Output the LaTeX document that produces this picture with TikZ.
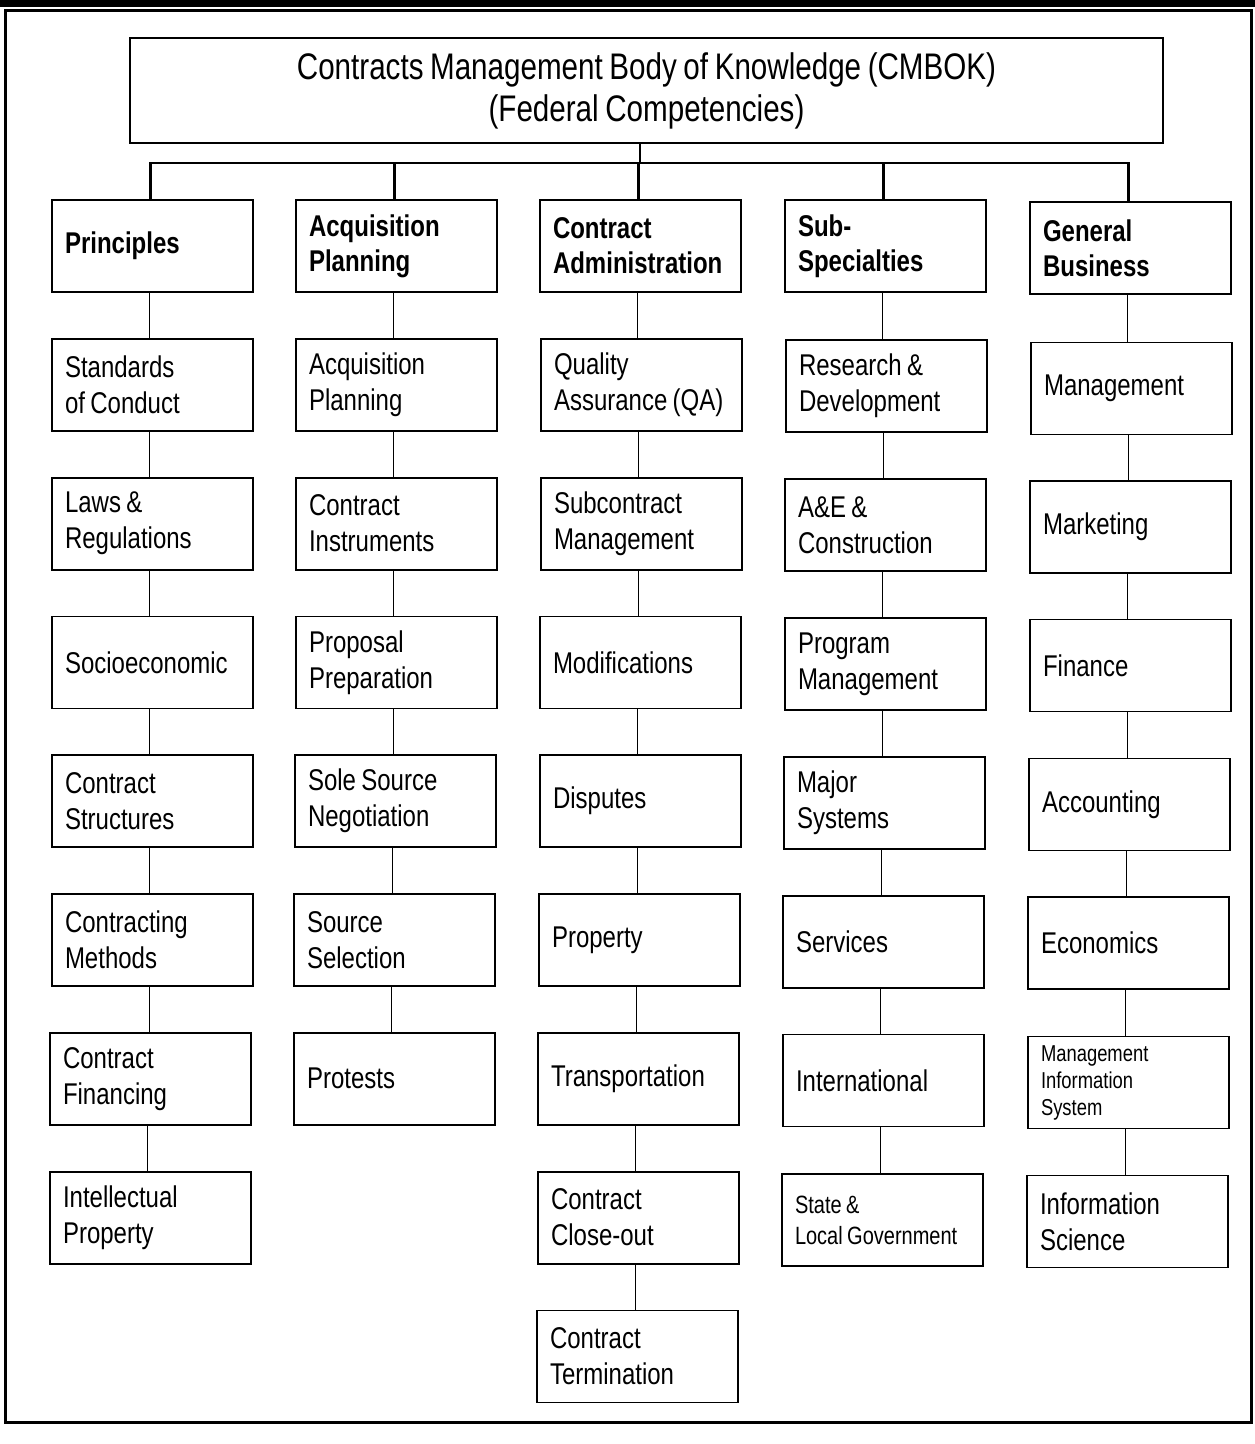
\documentclass[tikz,border=0pt]{standalone}
\usepackage{fontspec}
\setmainfont{Liberation Sans}[FakeStretch=0.8,WordSpace=0.8]
\begin{document}
\begin{tikzpicture}[x=1pt,y=-1pt,
  box/.style={draw,line width=1.8pt,minimum width=201pt,minimum height=92pt,
    text width=175pt,inner xsep=13pt,align=flush left,font=\fontsize{30}{36}\selectfont},
  head/.style={box,font=\fontsize{30}{35}\selectfont\bfseries},
  link/.style={line width=1.8pt}]
\useasboundingbox (0,0) rectangle (1255,1444);
\fill (0,0) rectangle (1255,7);
\draw[line width=3pt] (5,10) rectangle (1251,1422);
% title
\node[draw,line width=2.6pt,minimum width=1033pt,minimum height=105pt,align=center,
  font=\fontsize{37}{42}\selectfont] (title) at (646.5,90.5)
  {Contracts Management Body of Knowledge (CMBOK)\\(Federal Competencies)};
\coordinate (bus) at (640,163);
% headers
\node[head] (h1) at (152.5,246) {Principles};
\node[head] (h2) at (396.5,246) {Acquisition\\Planning};
\node[head] (h3) at (640.5,246) {Contract\\Administration};
\node[head] (h4) at (885.5,246) {Sub-\\Specialties};
\node[head] (h5) at (1130.5,248) {General\\Business};
\foreach \h in {h1,h2,h3,h4,h5}
  \draw[line width=2.2pt] (title.south -| bus) -- (bus) -| ([xshift=-2pt]\h.north);
% column 1
\node[box] (a1) at (152.5,384.8) {Standards\\of Conduct};
\node[box] (a2) at (152.5,523.6) {Laws \&\\Regulations};
\node[box] (a3) at (152.5,662.4) {Socioeconomic};
\node[box] (a4) at (152.5,801.2) {Contract\\Structures};
\node[box] (a5) at (152.5,940) {Contracting\\Methods};
\node[box] (a6) at (150.5,1078.8) {Contract\\Financing};
\node[box] (a7) at (150.5,1217.6) {Intellectual\\Property};
% column 2
\node[box] (b1) at (396.5,384.8) {Acquisition\\Planning};
\node[box] (b2) at (396.5,523.6) {Contract\\Instruments};
\node[box] (b3) at (396.5,662.4) {Proposal\\Preparation};
\node[box] (b4) at (395.5,801.2) {Sole Source\\Negotiation};
\node[box] (b5) at (394.5,940) {Source\\Selection};
\node[box] (b6) at (394.5,1078.8) {Protests};
% column 3
\node[box] (c1) at (641.5,384.8) {Quality\\Assurance (QA)};
\node[box] (c2) at (641.5,523.6) {Subcontract\\Management};
\node[box] (c3) at (640.5,662.4) {Modifications};
\node[box] (c4) at (640.5,801.2) {Disputes};
\node[box] (c5) at (639.5,940) {Property};
\node[box] (c6) at (638.5,1078.8) {Transportation};
\node[box] (c7) at (638.5,1217.6) {Contract\\Close-out};
\node[box] (c8) at (637.5,1356.4) {Contract\\Termination};
% column 4
\node[box] (d1) at (886.5,386) {Research \&\\Development};
\node[box] (d2) at (885.5,525) {A\&E \&\\Construction};
\node[box] (d3) at (885.5,664) {Program\\Management};
\node[box] (d4) at (884.5,803) {Major\\Systems};
\node[box] (d5) at (883.5,942) {Services};
\node[box] (d6) at (883.5,1080.5) {International};
\node[box,font=\fontsize{25}{31}\selectfont] (d7) at (882.5,1220) {State \&\\Local Government};
% column 5
\node[box] (e1) at (1131.5,388.5) {Management};
\node[box] (e2) at (1130.5,527) {Marketing};
\node[box] (e3) at (1130.5,665.5) {Finance};
\node[box] (e4) at (1129.5,804.5) {Accounting};
\node[box] (e5) at (1128.5,943) {Economics};
\node[box,font=\fontsize{23}{27}\selectfont] (e6) at (1128.5,1082.5) {Management\\Information\\System};
\node[box] (e7) at (1127.5,1221.5) {Information\\Science};
% connectors
\foreach \a/\b in {h1/a1,a1/a2,a2/a3,a3/a4,a4/a5,a5/a6,a6/a7,
  h2/b1,b1/b2,b2/b3,b3/b4,b4/b5,b5/b6,
  h3/c1,c1/c2,c2/c3,c3/c4,c4/c5,c5/c6,c6/c7,c7/c8,
  h4/d1,d1/d2,d2/d3,d3/d4,d4/d5,d5/d6,d6/d7,
  h5/e1,e1/e2,e2/e3,e3/e4,e4/e5,e5/e6,e6/e7}
  \draw[link] ([xshift=-3pt]\a.south) -- ([xshift=-3pt]\a.south |- \b.north);
\end{tikzpicture}
\end{document}
